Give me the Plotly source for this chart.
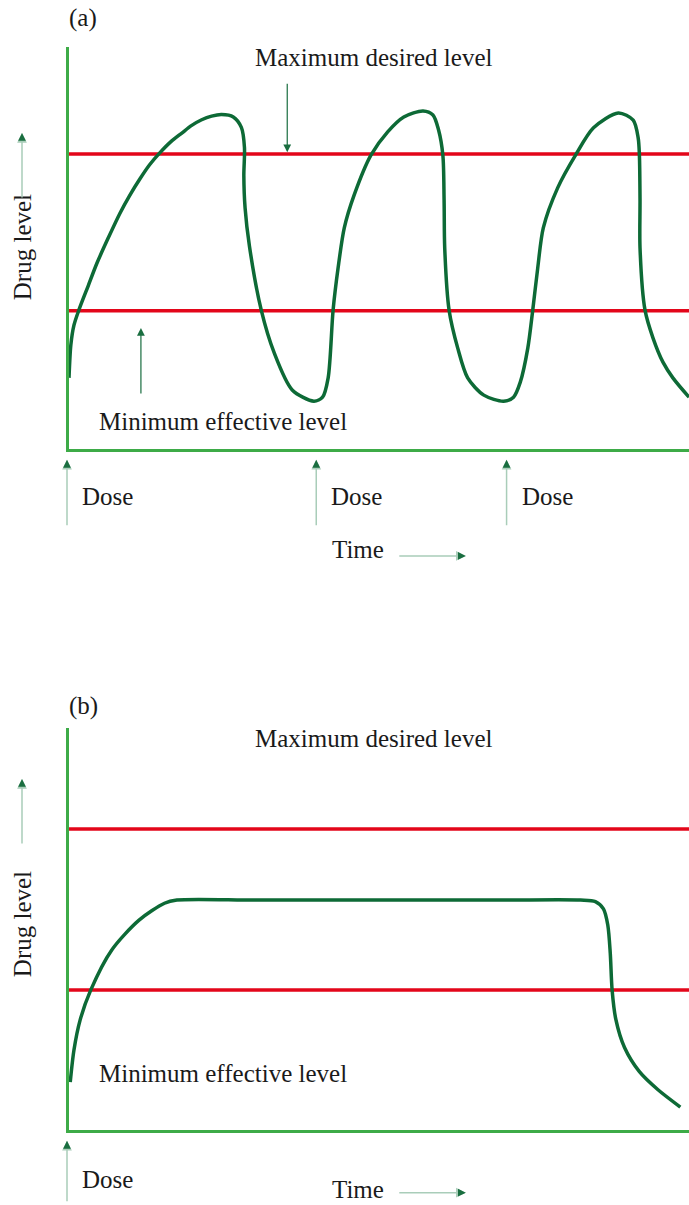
import plotly.graph_objects as go

# ---------------- data (time and drug level in arbitrary units, 0-100) ----------------
# Panel (a): repeated conventional doses
time_a = [0, 0.3, 0.8, 1.6, 3.1, 4.5, 6.3, 8.2, 9.8, 11.4, 13.0, 14.6, 16.4, 18.2, 19.8, 21.4,
          23.0, 24.6, 26.5, 27.8, 28.3, 28.2, 28.4, 29.1, 31.0, 33.1, 36.0, 39.5, 40.9, 41.8,
          42.6, 43.4, 44.4, 46.0, 48.7, 51.4, 54.0, 57.1, 58.7, 59.6, 60.3, 60.5, 60.6,
          61.3, 62.7, 64.3, 66.9, 70.1, 71.7, 72.8, 74.0, 74.8, 75.6, 76.5, 78.8, 81.7,
          84.6, 88.6, 91.0, 91.8, 92.0, 92.1, 92.1, 92.9, 94.2, 95.8, 97.4, 100]
level_a = [17.7, 25.9, 30.8, 34.6, 40.6, 46.2, 52.4, 58.6, 63.1, 67.1, 70.7, 73.6, 76.4, 78.6, 80.5, 81.9,
           82.8, 83.2, 82.6, 80.0, 75.0, 68.0, 60.0, 50.5, 34.6, 23.9, 14.7, 11.9, 12.9, 17.7,
           34.6, 45.0, 55.0, 63.2, 73.1, 78.9, 82.6, 84.1, 83.1, 79.4, 73.1, 61.9, 50.0,
           34.6, 25.1, 17.7, 13.4, 11.9, 12.9, 16.7, 25.1, 34.6, 45.0, 55.0, 64.9, 73.1,
           79.9, 83.6, 81.8, 77.4, 73.1, 61.9, 50.0, 34.6, 27.6, 21.6, 17.7, 12.9]
max_level_a = 73.4
min_level_a = 34.4
dose_times_a = [0, 40.2, 70.9]

# Panel (b): controlled release
time_b = [0.2, 0.8, 1.8, 3.5, 6.9, 11.3, 15.4, 17.4, 30, 50, 70, 82.5, 84.9, 86.2,
          86.9, 87.3, 87.6, 88.2, 89.6, 92.0, 95.0, 98.6]
level_b = [11.9, 19.9, 27.4, 34.8, 44.8, 52.2, 56.4, 57.2, 57.2, 57.2, 57.2, 57.2, 56.8, 55.0,
           51.0, 44.0, 34.8, 27.5, 20.5, 14.5, 10.0, 5.7]
max_level_b = 74.9
min_level_b = 34.8
dose_times_b = [0]

# text labels
label_max = "Maximum desired level"
label_min = "Minimum effective level"
label_y = "Drug level"
label_x = "Time"
label_dose = "Dose"

# ---------------- styles ----------------
AXIS_GREEN = "#3dab47"
RED = "#e3061a"
CURVE = "#0d6a36"
DARK_ARROW = "#1a6e40"
PALE_ARROW = "#a9cdb9"
FONT = dict(family="Liberation Serif, Times New Roman, serif", size=25, color="#1a1a1a")

W, H = 689, 1205
fig = go.Figure()

# domains
x_dom = [69 / W, 1.0]
ya_dom = [1 - 449 / H, 1 - 47 / H]
yb_dom = [1 - 1130 / H, 1 - 728 / H]
DOMS = {"a": ya_dom, "b": yb_dom}


def px(t):
    return x_dom[0] + t / 100 * (x_dom[1] - x_dom[0])


def py(panel, L):
    d = DOMS[panel]
    return d[0] + L / 100 * (d[1] - d[0])


line_kw = dict(mode="lines", hoverinfo="skip", showlegend=False)
spl = dict(color=CURVE, width=3.5, shape="spline", smoothing=0.8)

# panel a
for lvl in (max_level_a, min_level_a):
    fig.add_trace(go.Scatter(x=[0, 100], y=[lvl] * 2, line=dict(color=RED, width=3.5),
                             xaxis="x", yaxis="y", **line_kw))
fig.add_trace(go.Scatter(x=time_a, y=level_a, line=spl, xaxis="x", yaxis="y", **line_kw))
# panel b
for lvl in (max_level_b, min_level_b):
    fig.add_trace(go.Scatter(x=[0, 100], y=[lvl] * 2, line=dict(color=RED, width=3.5),
                             xaxis="x2", yaxis="y2", **line_kw))
fig.add_trace(go.Scatter(x=time_b, y=level_b, line=spl, xaxis="x2", yaxis="y2", **line_kw))

ax_common = dict(range=[0, 100], showgrid=False, zeroline=False, showticklabels=False,
                 ticks="", showline=True, linecolor=AXIS_GREEN, linewidth=3, fixedrange=True)
fig.update_layout(
    width=W, height=H, margin=dict(l=0, r=0, t=0, b=0),
    paper_bgcolor="white", plot_bgcolor="white", showlegend=False,
    xaxis=dict(domain=x_dom, anchor="y", **ax_common),
    yaxis=dict(domain=ya_dom, anchor="x", **ax_common),
    xaxis2=dict(domain=x_dom, anchor="y2", **ax_common),
    yaxis2=dict(domain=yb_dom, anchor="x2", **ax_common),
)

ann = []


def text(t, x, y, xanchor="center", angle=0):
    ann.append(dict(text=t, x=x, y=y, xref="paper", yref="paper", showarrow=False, font=FONT,
                    xanchor=xanchor, yanchor="middle", textangle=angle))


def arrow(x, y, ax, ay, color, width=1.2):
    # x, y in paper units; ax, ay tail offsets in pixels
    ann.append(dict(text="", x=x, y=y, ax=ax, ay=ay, xref="paper", yref="paper",
                    axref="pixel", ayref="pixel",
                    showarrow=True, arrowhead=2, arrowsize=1.3, arrowwidth=width, arrowcolor=color,
                    standoff=0, startstandoff=0))


def two_tone(x, y, ax, ay):
    arrow(x, y, ax, ay, PALE_ARROW, 1.5)
    sx = 0 if ax == 0 else (6 if ax > 0 else -6)
    sy = 0 if ay == 0 else (6 if ay > 0 else -6)
    arrow(x, y, sx, sy, DARK_ARROW, 1.2)


for panel, mn_lbl, doses, dose_y, time_y, tarrow_y, title, title_y, ylab_y, yarr, dose_len in [
    ("a", 6.8, dose_times_a, -11.9, -25.1, -26.6, "(a)", 107.2, 50.2, 78.6, 67),
    ("b", 14.1, dose_times_b, -12.4, -14.8, -15.6, "(b)", 105.5, 51.2, 87.3, 62),
]:
    text(title, px(2.3), py(panel, title_y))
    text(label_max, px(49.1), py(panel, 97.3))
    text(label_min, px(24.8), py(panel, mn_lbl))
    text(label_y, 22 / W, py(panel, ylab_y), angle=-90)
    # drug level direction arrow
    two_tone(22 / W, py(panel, yarr), 0, 66)
    # doses
    for d in doses:
        two_tone(px(d) - 2 / W, py(panel, -2.7), 0, dose_len)
        text(label_dose, px(d + 1.8), py(panel, dose_y), xanchor="left")
    # time label and arrow
    text(label_x, px(42.1), py(panel, time_y), xanchor="left")
    two_tone(px(64.0), py(panel, tarrow_y), -68, 0)

# pointer arrows to the reference levels in panel (a)
arrow(px(35.2), py("a", max_level_a + 0.4), 0, -70, DARK_ARROW, 1.2)
arrow(px(11.6), py("a", 30.1), 0, 67, DARK_ARROW, 1.2)

fig.update_layout(annotations=ann)
fig.write_html("out.html", config={"displayModeBar": False},
               post_script="document.body.style.margin='0px';")
